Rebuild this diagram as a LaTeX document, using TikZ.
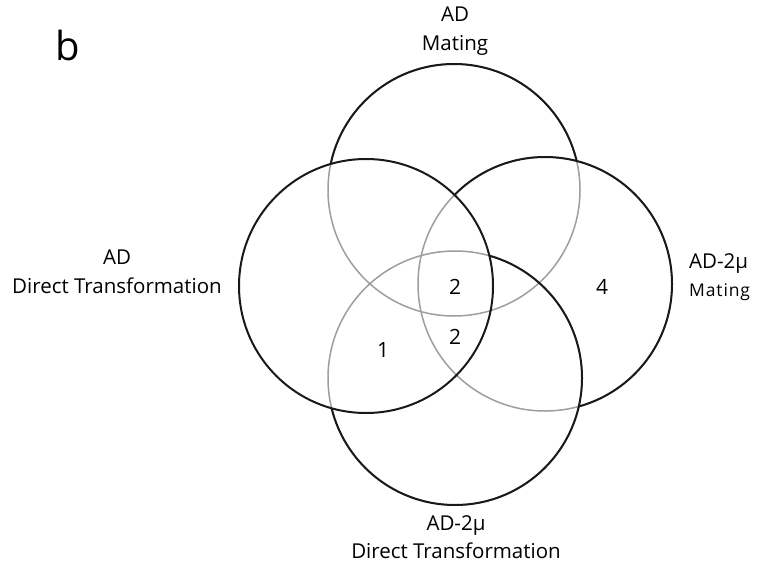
\documentclass[tikz,border=0pt]{standalone}
\usepackage{fontspec}
\setmainfont{Open Sans}
\begin{document}
\begin{tikzpicture}[x=1pt,y=-1pt,
  graycirc/.style={draw=black!38,line width=1.5pt},
  blackcirc/.style={draw=black!90,line width=2pt},
  lbl/.style={align=center,font=\fontsize{20.5}{28.5}\selectfont,inner sep=0pt},
  num/.style={font=\fontsize{21}{24}\selectfont,inner sep=0pt}]
\useasboundingbox[fill=white] (0,0) rectangle (759,569);
% centres
\coordinate (cT) at (454,190);
\coordinate (cL) at (366,286);
\coordinate (cR) at (545,284);
\coordinate (cB) at (455,378);
\def\rT{126}\def\rO{127}
% gray base circles
\draw[graycirc] (cT) circle (\rT);
\draw[graycirc] (cR) circle (\rO);
\draw[graycirc] (cB) circle (\rO);
% black: left circle full
\draw[blackcirc] (cL) circle (\rO);
% black: top circle outside L and R
\begin{scope}[even odd rule]
  \clip (-50,-50) rectangle (810,620) (cL) circle (\rO);
  \clip (-50,-50) rectangle (810,620) (cR) circle (\rO);
  \draw[blackcirc] (cT) circle (\rT);
\end{scope}
% black: right circle outside L and B
\begin{scope}[even odd rule]
  \clip (-50,-50) rectangle (810,620) (cL) circle (\rO);
  \clip (-50,-50) rectangle (810,620) (cB) circle (\rO);
  \draw[blackcirc] (cR) circle (\rO);
\end{scope}
% black: bottom circle outside L
\begin{scope}[even odd rule]
  \clip (-50,-50) rectangle (810,620) (cL) circle (\rO);
  \draw[blackcirc] (cB) circle (\rO);
\end{scope}
% labels
\node (b) at (68,46) {\fontsize{40}{44}\selectfont b};
\node[lbl] (top) at (455,31) {AD\\Mating};
\node[lbl] (left) at (117,272) {AD\\Direct Transformation};
\node[lbl,anchor=west] (right1) at (689,264) {AD-2µ};
\node[anchor=west,inner sep=0pt,font=\fontsize{17.5}{18}\selectfont] (right2) at (689,292) {\addfontfeature{LetterSpace=5}Mating};
\node[lbl] (bottom) at (456,537) {AD-2µ\\Direct Transformation};
% numbers
\node[num] (n1) at (455,287) {2};
\node[num] (n2) at (455,337) {2};
\node[num] (n3) at (383,350) {1};
\node[num] (n4) at (602,287) {4};
\end{tikzpicture}
\end{document}
